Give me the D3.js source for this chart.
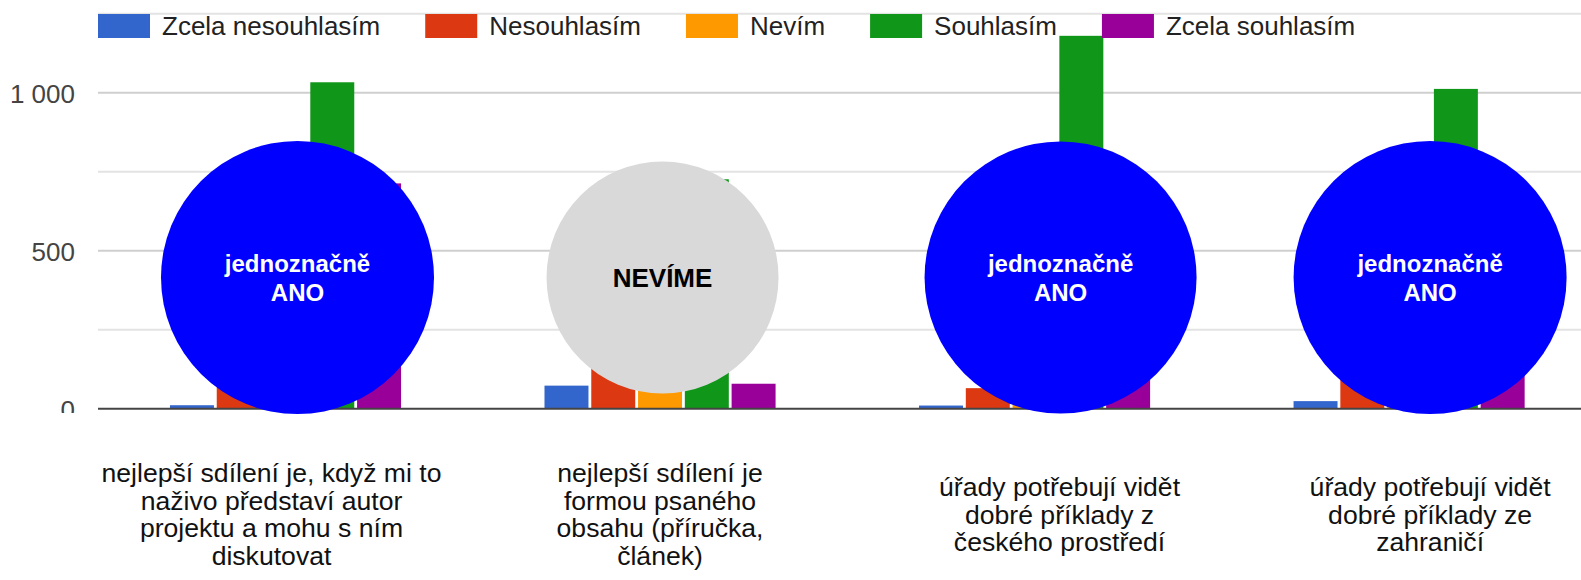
<!DOCTYPE html>
<html>
<head>
<meta charset="utf-8" />
<style>
body {
	margin: 0;
	background: #fff;
	font-family: Arial, "Liberation Sans", Helvetica;
}
svg {
	display: block;
}
.y-label {
	font-size: 26px;
	fill: #444;
	text-anchor: end;
}
.legend-label {
	font-size: 26px;
	fill: #222;
}
.cat-label {
	font-size: 26.6px;
	fill: #111;
	text-anchor: middle;
}
.bubble-text {
	font-weight: bold;
	text-anchor: middle;
}
</style>
</head>
<body>
<script src="https://cdn.jsdelivr.net/npm/d3@7"></script>
<script>
// categories (x axis), wrapped the way they appear under the chart
var categories = ["A", "B", "C", "D"];
var categoryLines = [
	["nejlepší sdílení je, když mi to", "naživo představí autor", "projektu a mohu s ním", "diskutovat"],
	["nejlepší sdílení je", "formou psaného", "obsahu (příručka,", "článek)"],
	["úřady potřebují vidět", "dobré příklady z", "českého prostředí"],
	["úřady potřebují vidět", "dobré příklady ze", "zahraničí"]
];

var seriesNames = ["Zcela nesouhlasím", "Nesouhlasím", "Nevím", "Souhlasím", "Zcela souhlasím"];

// counts per category (red/orange/purple partly hidden under the bubbles, estimated)
var zcelaNesouhlasim = [11, 73, 10, 24];
var nesouhlasim = [120, 250, 65, 150];
var nevim = [70, 200, 40, 80];
var souhlasim = [1033, 726, 1180, 1012];
var zcelaSouhlasim = [713, 79, 600, 550];

var yTicks = [0, 500, 1000];
var yMinorTicks = [250, 750, 1250];

var verdicts = [["jednoznačně", "ANO"], ["NEVÍME"], ["jednoznačně", "ANO"], ["jednoznačně", "ANO"]];

var seriesValues = [zcelaNesouhlasim, nesouhlasim, nevim, souhlasim, zcelaSouhlasim];
var colors = ["#3366cc", "#dc3912", "#ff9900", "#109618", "#990099"];

var width = 1581,
    height = 580;

var svg = d3.select("body").append("svg")
	.attr("width", width)
	.attr("height", height);

var x0 = d3.scaleBand()
	.domain(categories)
	.range([98.8, 1595.8])
	.paddingInner(0.383)
	.paddingOuter(0.19);

var x1 = d3.scaleBand()
	.domain(seriesNames)
	.range([0, x0.bandwidth()])
	.paddingInner(0.06);

var y = d3.scaleLinear()
	.domain([0, 1250])
	.range([408.7, 13.7]);

var color = d3.scaleOrdinal().domain(seriesNames).range(colors);

// gridlines
var grid = svg.append("g");
grid.selectAll("line.minor")
	.data(yMinorTicks)
	.enter().append("line")
	.attr("x1", 98).attr("x2", width)
	.attr("y1", function(d) { return y(d); })
	.attr("y2", function(d) { return y(d); })
	.attr("stroke", "#e3e3e3")
	.attr("stroke-width", 2);
grid.selectAll("line.major")
	.data(yTicks.filter(function(d) { return d > 0; }))
	.enter().append("line")
	.attr("x1", 98).attr("x2", width)
	.attr("y1", function(d) { return y(d); })
	.attr("y2", function(d) { return y(d); })
	.attr("stroke", "#cfcfcf")
	.attr("stroke-width", 2);

// bars
var table = categories.map(function(c, i) {
	return seriesNames.map(function(s, j) {
		return { cat: c, series: s, value: seriesValues[j][i] };
	});
});

svg.append("g").selectAll("g")
	.data(table)
	.enter().append("g")
	.attr("transform", function(d, i) { return "translate(" + x0(categories[i]) + ",0)"; })
	.selectAll("rect")
	.data(function(d) { return d; })
	.enter().append("rect")
	.attr("x", function(d) { return x1(d.series); })
	.attr("width", x1.bandwidth())
	.attr("y", function(d) { return y(d.value); })
	.attr("height", function(d) { return y(0) - y(d.value); })
	.attr("fill", function(d) { return color(d.series); });

// baseline
svg.append("line")
	.attr("x1", 98).attr("x2", width)
	.attr("y1", y(0)).attr("y2", y(0))
	.attr("stroke", "#444")
	.attr("stroke-width", 2);

// y labels
svg.append("g").selectAll("text")
	.data(yTicks)
	.enter().append("text")
	.attr("class", "y-label")
	.attr("x", 75)
	.attr("y", function(d) { return y(d) + 10; })
	.text(function(d) { return d3.format(",")(d).replace(/,/g, " "); });

// the lower part is covered by a white box with the question texts
svg.append("rect")
	.attr("x", 0).attr("y", 413)
	.attr("width", width).attr("height", height - 413)
	.attr("fill", "#fff");

// legend
var legend = svg.append("g");
var lx = 98;
for (var i = 0; i < seriesNames.length; i++) {
	legend.append("rect")
		.attr("x", lx).attr("y", 14)
		.attr("width", 52).attr("height", 24)
		.attr("fill", colors[i]);
	var t = legend.append("text")
		.attr("class", "legend-label")
		.attr("x", lx + 64)
		.attr("y", 35)
		.text(seriesNames[i]);
	lx += 64 + t.node().getComputedTextLength() + 45;
}

// question texts under the groups
var labelShift = [-14, 0, 25, 21];
var lineHeight = 27.8;
var catLabels = svg.append("g");
categories.forEach(function(c, i) {
	var lines = categoryLines[i];
	var cx = x0(c) + x0.bandwidth() / 2 + labelShift[i];
	var first = 523.5 - (lines.length - 1) * lineHeight / 2;
	var txt = catLabels.append("text")
		.attr("class", "cat-label");
	lines.forEach(function(l, k) {
		txt.append("tspan")
			.attr("x", cx)
			.attr("y", first + k * lineHeight)
			.text(l);
	});
});

// verdict bubbles drawn over the bars
var bubbleShift = [12, 2.5, 26, 21];
var bubbleR = [136.5, 116, 136, 136.5];
var bubbleFill = ["#0000ff", "#d9d9d9", "#0000ff", "#0000ff"];
var bubbleInk = ["#fff", "#000", "#fff", "#fff"];
var bubbleSize = [24, 26, 24, 24];
var bubbleY = 277.5;

var bubbles = svg.append("g");
categories.forEach(function(c, i) {
	var cx = x0(c) + x0.bandwidth() / 2 + bubbleShift[i];
	bubbles.append("circle")
		.attr("cx", cx).attr("cy", bubbleY)
		.attr("r", bubbleR[i])
		.attr("fill", bubbleFill[i]);
	var lines = verdicts[i];
	var txt = bubbles.append("text")
		.attr("class", "bubble-text")
		.attr("fill", bubbleInk[i])
		.style("font-size", bubbleSize[i] + "px");
	var first = lines.length > 1 ? 272 : 286.5;
	lines.forEach(function(l, k) {
		txt.append("tspan")
			.attr("x", cx)
			.attr("y", first + k * 29)
			.text(l);
	});
});
</script>
</body>
</html>
